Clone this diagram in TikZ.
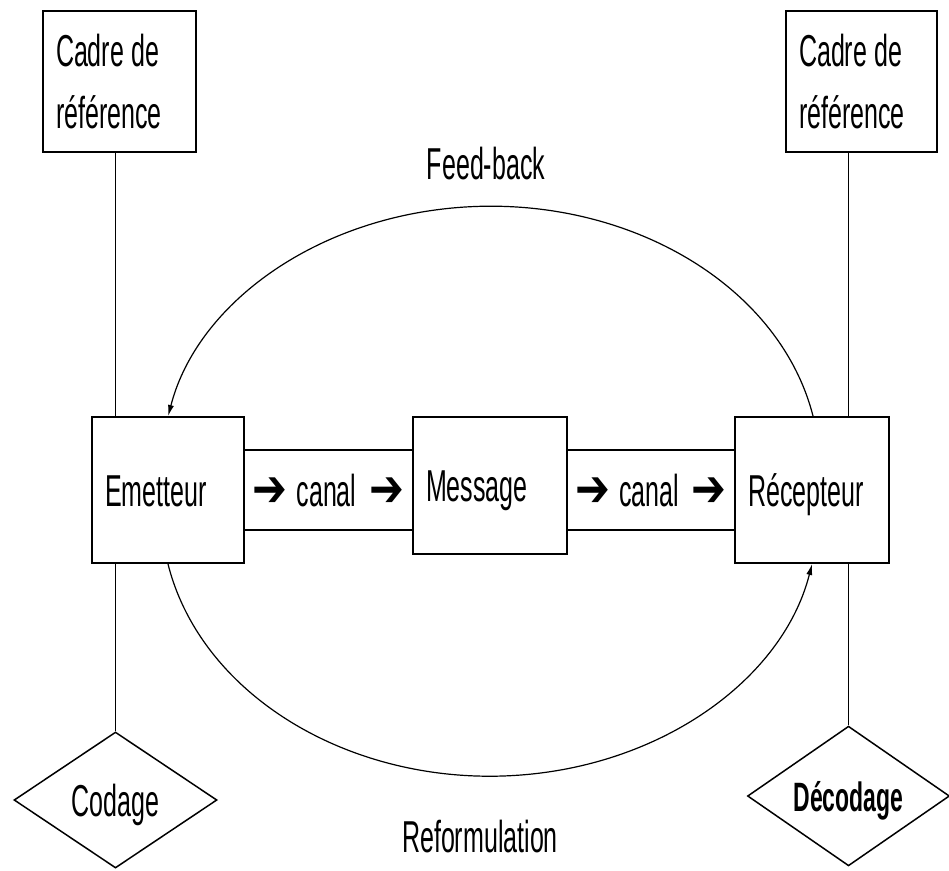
\documentclass[tikz,border=0pt]{standalone}
\usepackage{fontspec}
\setmainfont[FakeStretch=0.56]{Liberation Sans}
\newfontfamily\arrfont[FakeStretch=0.8]{DejaVu Sans Bold}
\newcommand{\harrow}{{\arrfont\fontsize{52}{52}\selectfont ➔}}
\usetikzlibrary{shapes.geometric,arrows.meta}
\begin{document}
\begin{tikzpicture}[x=1pt,y=-1pt,
  txt/.style={font=\fontsize{44.7}{62}\selectfont},
  box/.style={txt,draw,line width=2pt,fill=white,inner xsep=13pt,inner ysep=0pt,align=left},
  onebox/.style={box,text height=32pt,text depth=0pt},
  chan/.style={txt,inner sep=0pt,text height=32pt,text depth=0pt},
  chanline/.style={line width=2pt},
  dia/.style={diamond,draw,line width=1.5pt,inner sep=0pt,text height=32pt,text depth=0pt,txt},
  conn/.style={line width=1.2pt},
  tip/.style={-{Latex[length=11pt,width=6pt]}},
  lbl/.style={txt,inner sep=0pt}]
\useasboundingbox (0,0) rectangle (949,870);

% channels
\node[chan,minimum width=169pt,minimum height=80pt] (c1) at (328.5,490) {\harrow\hspace{9pt}canal\hspace{13pt}\harrow};
\node[chan,minimum width=168pt,minimum height=80pt] (c2) at (651,490) {\harrow\hspace{9pt}canal\hspace{13pt}\harrow};
\draw[chanline] (c1.north west) -- (c1.north east);
\draw[chanline] (c1.south west) -- (c1.south east);
\draw[chanline] (c2.north west) -- (c2.north east);
\draw[chanline] (c2.south west) -- (c2.south east);

% boxes
\node[box,minimum width=153pt,minimum height=141pt,text width=127pt] (cadL) at (119.5,81.5) {Cadre\hspace{7.5pt}de\\référence};
\node[box,minimum width=151pt,minimum height=141pt,text width=125pt] (cadR) at (861.5,81.5) {Cadre\hspace{7.5pt}de\\référence};
\node[onebox,minimum width=152pt,minimum height=146pt,text width=126pt] (em) at (168,490) {Emetteur};
\node[onebox,minimum width=154pt,minimum height=137pt,text width=128pt] (msg) at (490,485.5) {Message};
\node[onebox,minimum width=154pt,minimum height=146pt,text width=128pt] (rec) at (812,490) {Récepteur};

% diamonds
\node[dia,minimum width=203pt,minimum height=136pt] (cod) at (115.5,800) {Codage};
\node[dia,minimum width=202pt,minimum height=128pt,font=\fontsize{41}{50}\selectfont\bfseries,text height=30pt] (dec) at (848.5,796) {Décodage};

% vertical connectors
\draw[conn] (cod.north) -- (cod.north |- em.south);
\draw[conn] (cod.north |- em.north) -- (cod.north |- cadL.south);
\draw[conn] (dec.north) -- (dec.north |- rec.south);
\draw[conn] (dec.north |- rec.north) -- (dec.north |- cadR.south);

% feedback and reformulation arcs
\draw[conn,tip] ([xshift=1pt]rec.north) arc[start angle=-11.5,end angle=-168.5,x radius=329,y radius=262];
\draw[conn,tip] (em.south) arc[start angle=168.5,end angle=11.5,x radius=328.6,y radius=265];

% labels
\node[lbl] (fb) at (486,164) {Feed-back};
\node[lbl] (refo) at (480,837) {Reformulation};
\end{tikzpicture}
\end{document}
